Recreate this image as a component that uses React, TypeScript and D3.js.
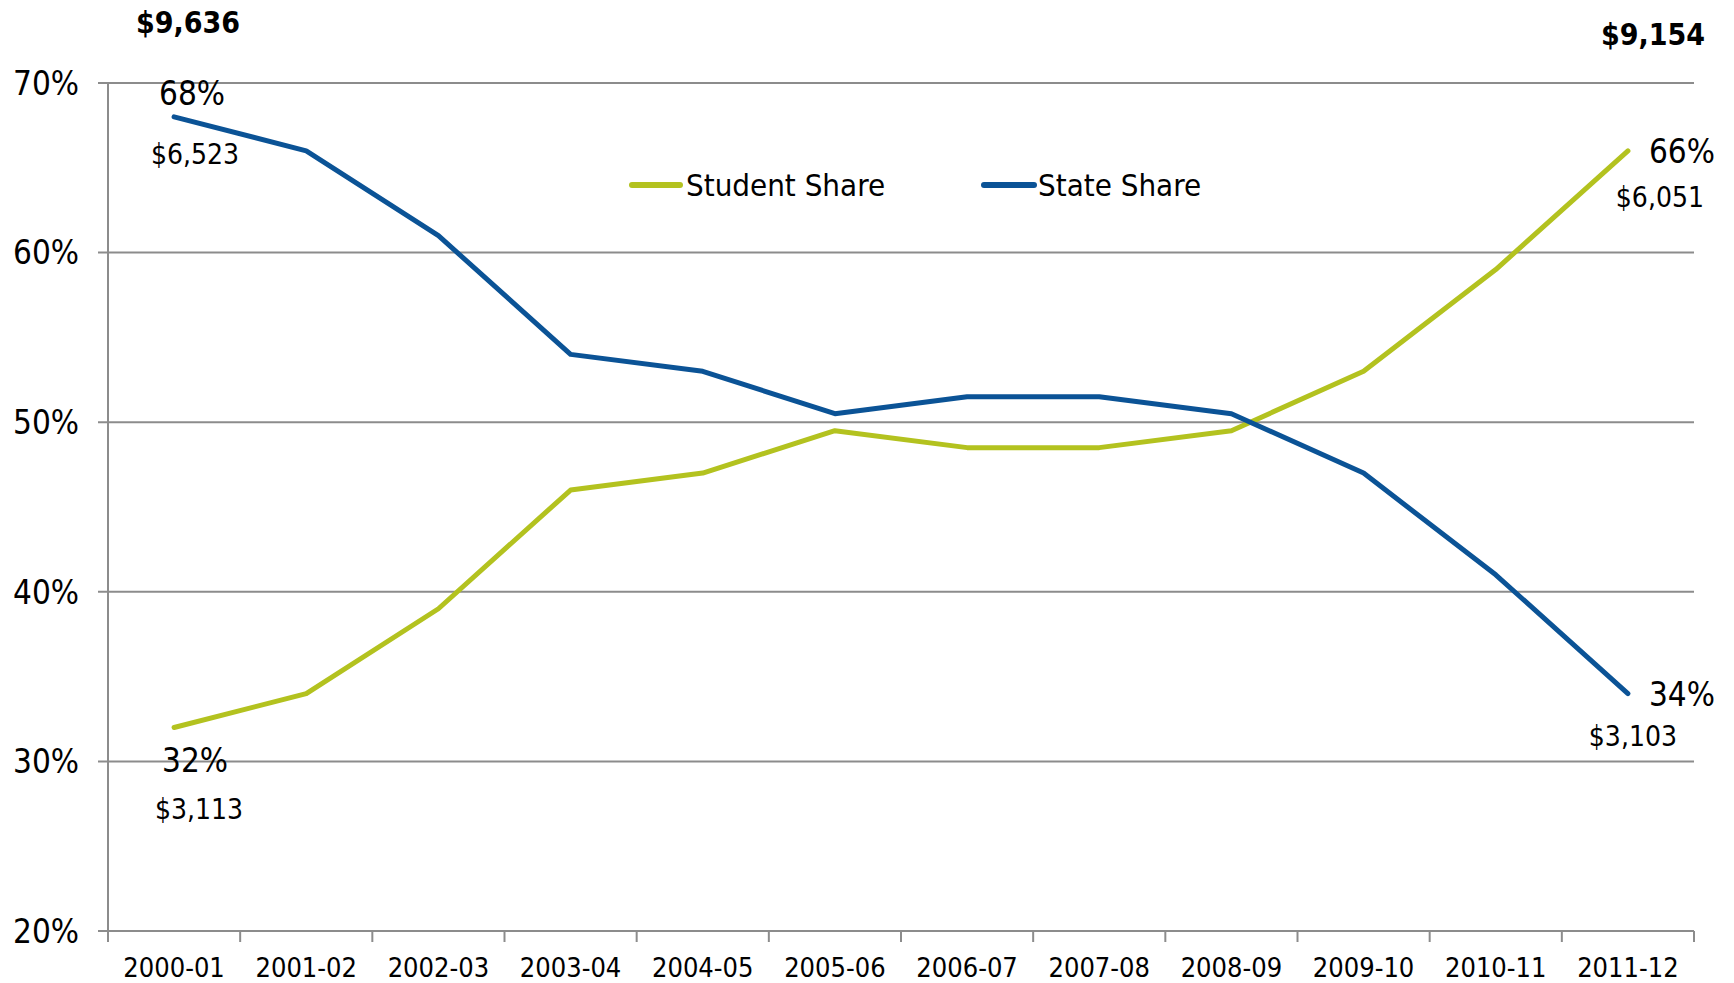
import React from "react";
import * as d3 from "d3";

const years = [
  "2000-01", "2001-02", "2002-03", "2003-04", "2004-05", "2005-06",
  "2006-07", "2007-08", "2008-09", "2009-10", "2010-11", "2011-12",
];
const studentShare = [32, 34, 39, 46, 47, 49.5, 48.5, 48.5, 49.5, 53, 59, 66];
const stateShare = [68, 66, 61, 54, 53, 50.5, 51.5, 51.5, 50.5, 47, 41, 34];
const yTicks = [20, 30, 40, 50, 60, 70];
const totals = ["$9,636", "$9,154"];
// first year, last year
const studentDollars = ["$3,113", "$6,051"];
const stateDollars = ["$6,523", "$3,103"];

const W = 1734;
const H = 983;
const FONT = "'DejaVu Sans Condensed', 'DejaVu Sans', sans-serif";
const STUDENT = "#b3c21f";
const STATE = "#0b5396";
const GRID = "#8c8c8c";

const App = () => {
  const x = d3.scaleBand<string>().domain(years).range([108, 1694]);
  const y = d3.scaleLinear().domain([20, 70]).range([931, 83]);
  const cx = (i: number) => (x(years[i]) ?? 0) + x.bandwidth() / 2;

  const line = d3
    .line<number>()
    .x((_, i) => cx(i))
    .y((d) => y(d));

  const last = years.length - 1;

  return (
    <svg
      width={W}
      height={H}
      viewBox={`0 0 ${W} ${H}`}
      style={{ position: "absolute", left: 0, top: 0, background: "#fff" }}
      fontFamily={FONT}
    >
      {/* gridlines + y labels */}
      {yTicks.map((t) => (
        <g key={t}>
          <line x1={98} x2={1694} y1={y(t)} y2={y(t)} stroke={GRID} strokeWidth={2} />
          <text x={79} y={y(t)} dy="0.36em" textAnchor="end" fontSize={33} fill="#000">
            {t}%
          </text>
        </g>
      ))}
      {/* y axis */}
      <line x1={108} x2={108} y1={y(70)} y2={y(20)} stroke={GRID} strokeWidth={2} />

      {/* x ticks + labels */}
      {years.map((yr, i) => (
        <g key={yr}>
          <line
            x1={x(yr)!}
            x2={x(yr)!}
            y1={y(20)}
            y2={y(20) + 11}
            stroke={GRID}
            strokeWidth={2}
          />
          <text x={cx(i)} y={977} textAnchor="middle" fontSize={27} fill="#000">
            {yr}
          </text>
        </g>
      ))}
      <line x1={1694} x2={1694} y1={y(20)} y2={y(20) + 11} stroke={GRID} strokeWidth={2} />

      {/* series */}
      <path d={line(studentShare)!} fill="none" stroke={STUDENT} strokeWidth={5} strokeLinejoin="round" strokeLinecap="round" />
      <path d={line(stateShare)!} fill="none" stroke={STATE} strokeWidth={5} strokeLinejoin="round" strokeLinecap="round" />

      {/* legend */}
      <line x1={632} x2={680} y1={185} y2={185} stroke={STUDENT} strokeWidth={6} strokeLinecap="round" />
      <text x={686} y={185} dy="0.36em" fontSize={31} fill="#000">Student Share</text>
      <line x1={984} x2={1034} y1={185} y2={185} stroke={STATE} strokeWidth={6} strokeLinecap="round" />
      <text x={1038} y={185} dy="0.36em" fontSize={31} fill="#000">State Share</text>

      {/* totals */}
      <text x={188} y={33} textAnchor="middle" fontSize={30} fontWeight="bold" fill="#000">
        {totals[0]}
      </text>
      <text x={1653} y={45} textAnchor="middle" fontSize={30} fontWeight="bold" fill="#000">
        {totals[1]}
      </text>

      {/* first-year labels */}
      <text x={cx(0) + 18} y={y(stateShare[0]) - 12} textAnchor="middle" fontSize={33} fill="#000">
        {stateShare[0]}%
      </text>
      <text x={cx(0) + 21} y={y(stateShare[0]) + 47} textAnchor="middle" fontSize={28} fill="#000">
        {stateDollars[0]}
      </text>
      <text x={cx(0) + 21} y={y(studentShare[0]) + 45} textAnchor="middle" fontSize={33} fill="#000">
        {studentShare[0]}%
      </text>
      <text x={cx(0) + 25} y={y(studentShare[0]) + 92} textAnchor="middle" fontSize={28} fill="#000">
        {studentDollars[0]}
      </text>

      {/* last-year labels */}
      <text x={cx(last) + 21} y={y(studentShare[last]) + 12} fontSize={33} fill="#000">
        {studentShare[last]}%
      </text>
      <text x={cx(last) + 32} y={y(studentShare[last]) + 56} textAnchor="middle" fontSize={28} fill="#000">
        {studentDollars[1]}
      </text>
      <text x={cx(last) + 21} y={y(stateShare[last]) + 12} fontSize={33} fill="#000">
        {stateShare[last]}%
      </text>
      <text x={cx(last) + 5} y={y(stateShare[last]) + 52} textAnchor="middle" fontSize={28} fill="#000">
        {stateDollars[1]}
      </text>
    </svg>
  );
};

export default App;
